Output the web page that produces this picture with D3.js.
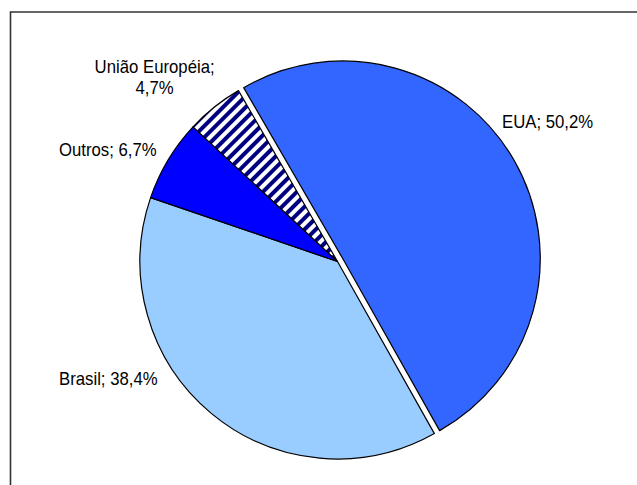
<!DOCTYPE html>
<html>
<head>
<meta charset="utf-8">
<script src="https://cdn.jsdelivr.net/npm/d3@7"></script>
<style>
  html, body { margin: 0; padding: 0; background: #fff; }
  svg { display: block; }
  text { font-family: Arial, "Liberation Sans", sans-serif; font-size: 18px; fill: #000; }
</style>
</head>
<body>
<svg id="chart" width="637" height="485"></svg>
<script>
// ---- data ----
const categories = ["EUA", "Brasil", "Outros", "União Européia"];
const values = [50.2, 38.4, 6.7, 4.7];
const labelLines = [["EUA; 50,2%"], ["Brasil; 38,4%"], ["Outros; 6,7%"], ["União Européia;", "4,7%"]];

// ---- layout / style ----
const colors = ["#3366FF", "#99CCFF", "#0000FF", "url(#stripes)"];
const exploded = [6, 0, 0, 0];
const W = 637, H = 485;
const cx = 337.5, cy = 261.5, R = 197.5;
const startDeg = -30.1;
const textScaleX = 0.93;
// label anchor points [x, y(baseline of first line), text-anchor]
const labelLayout = [
  [502, 128, "start"],
  [59, 385, "start"],
  [59, 156, "start"],
  [154.6, 73, "middle"]
];

const svg = d3.select("#chart");

// stripe pattern
const defs = svg.append("defs");
const pat = defs.append("pattern")
  .attr("id", "stripes")
  .attr("patternUnits", "userSpaceOnUse")
  .attr("width", 8).attr("height", 8)
  .attr("patternTransform", "rotate(45)");
pat.append("rect").attr("width", 8).attr("height", 8).attr("fill", "#fff");
pat.append("rect").attr("width", 4).attr("height", 8).attr("fill", "#000080");

// frame
svg.append("path")
  .attr("d", `M10.5,${H} L10.5,12 L${W},12`)
  .attr("fill", "none")
  .attr("stroke", "#333")
  .attr("stroke-width", 1.6);

const pie = d3.pie().sort(null)
  .startAngle(startDeg * Math.PI / 180)
  .endAngle(startDeg * Math.PI / 180 + 2 * Math.PI);
const arcs = pie(values);
const arc = d3.arc().innerRadius(0).outerRadius(R);

const g = svg.append("g").attr("transform", `translate(${cx},${cy})`);
g.selectAll("path.slice")
  .data(arcs)
  .join("path")
  .attr("class", "slice")
  .attr("d", arc)
  .attr("transform", (d, i) => {
    const a = (d.startAngle + d.endAngle) / 2;
    const off = exploded[i];
    return `translate(${off * Math.sin(a)},${-off * Math.cos(a)})`;
  })
  .attr("fill", (d, i) => colors[i])
  .attr("stroke", "#000")
  .attr("stroke-width", 1.2)
  .attr("stroke-linejoin", "round");

// labels
const lbl = svg.append("g");
labelLines.forEach((lines, i) => {
  const [x, y, anchor] = labelLayout[i];
  const t = lbl.append("text")
    .attr("transform", `translate(${x},${y}) scale(${textScaleX},1)`)
    .attr("text-anchor", anchor);
  lines.forEach((ln, j) => {
    t.append("tspan").attr("x", 0).attr("dy", j === 0 ? 0 : 21).text(ln);
  });
});
</script>
</body>
</html>
